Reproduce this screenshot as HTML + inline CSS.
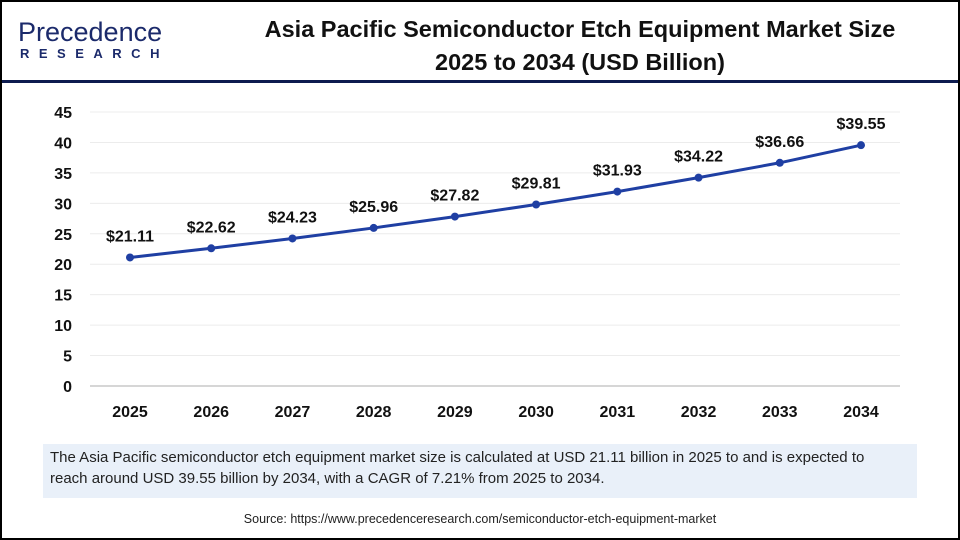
<!DOCTYPE html>
<html><head><meta charset="utf-8"><style>
body{margin:0;width:960px;height:540px;overflow:hidden;background:#fff;font-family:"Liberation Sans",sans-serif}
#frame{position:absolute;left:0;top:0;width:956px;height:536px;border:2px solid #000}
</style></head><body>
<div id="frame"></div>
<div style="position:absolute;left:18px;top:18px;">
<div style="font-size:27px;color:#1b2a6b;letter-spacing:0px;line-height:28px">Precedence</div>
<div style="font-size:13px;font-weight:bold;color:#1b2a6b;letter-spacing:9.5px;line-height:16px;margin-left:2px">RESEARCH</div>
</div>
<div style="position:absolute;left:215px;top:13px;width:730px;text-align:center;font-size:23.5px;font-weight:bold;color:#111;line-height:33px">Asia Pacific Semiconductor Etch Equipment Market Size<br>2025 to 2034 (USD Billion)</div>
<div style="position:absolute;left:2px;top:80px;width:956px;height:3px;background:#0d1b4f"></div>
<svg id="chart" width="960" height="540" style="position:absolute;left:0;top:0"></svg>
<div style="position:absolute;left:43px;top:444px;width:874px;height:54px;background:#e9f0f9"></div>
<div style="position:absolute;left:50px;top:447px;width:850px;font-size:15px;color:#222;line-height:21px">The Asia Pacific semiconductor etch equipment market size is calculated at USD 21.11 billion in 2025 to and is expected to reach around USD 39.55 billion by 2034, with a CAGR of 7.21% from 2025 to 2034.</div>
<div style="position:absolute;left:0;top:512px;width:960px;text-align:center;font-size:12.5px;color:#222">Source: https://www.precedenceresearch.com/semiconductor-etch-equipment-market</div>
<script>
const years=["2025","2026","2027","2028","2029","2030","2031","2032","2033","2034"];
const values=[21.11,22.62,24.23,25.96,27.82,29.81,31.93,34.22,36.66,39.55];
const labels=["$21.11","$22.62","$24.23","$25.96","$27.82","$29.81","$31.93","$34.22","$36.66","$39.55"];
const yTicks=[0,5,10,15,20,25,30,35,40,45];
const NS="http://www.w3.org/2000/svg";
const svg=document.getElementById('chart');
const y=v=>386-v*(386-112)/45;
const x=i=>130+i*(861-130)/(years.length-1);
function mk(t,a,txt){const e=document.createElementNS(NS,t);for(const k in a)e.setAttribute(k,a[k]);if(txt!==undefined)e.textContent=txt;svg.appendChild(e);return e;}
yTicks.forEach(t=>{
 const g=mk('line',{x1:90,x2:900,y1:y(t),y2:y(t),stroke:t===0?'#c8c8c8':'#ececec','stroke-width':t===0?1.5:1});
 
 
 const l=mk('text',{x:72,y:y(t)+6,'text-anchor':'end','font-size':16,'font-weight':'bold',fill:'#111','font-family':'Liberation Sans'},t);
 
 
});
years.forEach((yr,i)=>{
 const l=mk('text',{x:x(i),y:417,'text-anchor':'middle','font-size':16,'font-weight':'bold',fill:'#111','font-family':'Liberation Sans'},yr);
 
 
});
const p=mk('polyline',{points:values.map((v,i)=>x(i)+','+y(v)).join(' '),fill:'none',stroke:'#1f3fa3','stroke-width':3});


values.forEach((v,i)=>{
 const c=mk('circle',{cx:x(i),cy:y(v),r:4,fill:'#1f3fa3'});
 
 
 const t=mk('text',{x:x(i),y:y(v)-16,'text-anchor':'middle','font-size':16,'font-weight':'bold',fill:'#111','font-family':'Liberation Sans'},labels[i]);
 
 
});
</script>
</body></html>
